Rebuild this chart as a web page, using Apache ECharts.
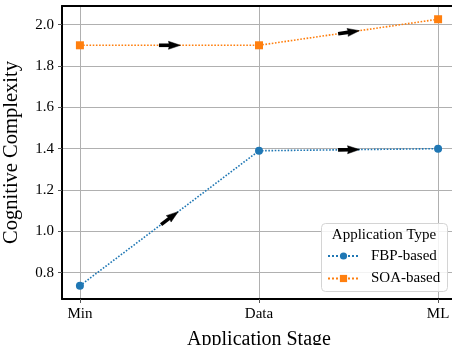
<!DOCTYPE html>
<html><head><meta charset="utf-8">
<script src="https://cdn.jsdelivr.net/npm/echarts@6/dist/echarts.min.js"></script>
<style>html,body{margin:0;padding:0;background:#fff}#c{width:452px;height:345px}</style>
</head><body><div id="c"></div>
<script>
var categories = ['Min', 'Data', 'ML'];
var fbpValues = [0.737, 1.39, 1.40];
var soaValues = [1.90, 1.90, 2.026];
var yTicks = [0.8, 1.0, 1.2, 1.4, 1.6, 1.8, 2.0];
var xTicks = [0, 1, 2];
var seriesNames = ['FBP-based', 'SOA-based'];

var FONT = 'Liberation Serif';
var GRID_C = '#b0b0b0';

function toPairs(vals){ return vals.map(function(v,i){ return [i, v]; }); }
function segments(vals){ var s=[]; for(var i=0;i<vals.length-1;i++){ s.push([i, vals[i], vals[i+1]]); } return s; }

function arrowItem(params, api){
  var i = api.value(0);
  var p0 = api.coord([i, api.value(1)]);
  var p1 = api.coord([i+1, api.value(2)]);
  var mx=(p0[0]+p1[0])/2, my=(p0[1]+p1[1])/2;
  var dx=p1[0]-p0[0], dy=p1[1]-p0[1]; var L=Math.sqrt(dx*dx+dy*dy);
  var ux=dx/L, uy=dy/L, nx=-uy, ny=ux;
  var tip=[mx+11*ux, my+11*uy], tail=[mx-10.5*ux, my-10.5*uy];
  var hb=[tip[0]-12*ux, tip[1]-12*uy];
  return {type:'group', children:[
    {type:'line', shape:{x1:tail[0],y1:tail[1],x2:hb[0]+2*ux,y2:hb[1]+2*uy}, style:{stroke:'#000', lineWidth:3.6}},
    {type:'polygon', shape:{points:[tip,[hb[0]+4*nx,hb[1]+4*ny],[hb[0]+1*ux,hb[1]+1*uy],[hb[0]-4*nx,hb[1]-4*ny]]}, style:{fill:'#000', stroke:'#000', lineWidth:0.5}}
  ]};
}

var chart = echarts.init(document.getElementById('c'), null, {renderer:'canvas'});
chart.setOption({
  animation:false,
  textStyle:{fontFamily:FONT},
  grid:{left:62, top:6, width:394, height:293, containLabel:false, outerBoundsMode:'none'},
  xAxis:[{
    type:'value', min:-0.1, max:2.1, minInterval:1, maxInterval:1, splitNumber:2,
    name:'Application Stage', nameLocation:'middle', nameGap:31,
    nameTextStyle:{fontFamily:FONT, fontSize:20, color:'#000'},
    axisLine:{show:true, onZero:false, lineStyle:{color:'#000', width:2}},
    axisTick:{show:true, length:4, customValues:xTicks, lineStyle:{color:'#555'}},
    axisLabel:{customValues:xTicks, margin:8, fontFamily:FONT, fontSize:15, color:'#000',
      formatter:function(v){ var k=Math.round(v); return Math.abs(v-k)<1e-6 && categories[k]!==undefined ? categories[k] : ''; }},
    splitLine:{show:true, lineStyle:{color:GRID_C, width:1}},
    z:3
  },{
    type:'value', position:'top', min:-0.1, max:2.1,
    axisLine:{show:true, onZero:false, lineStyle:{color:'#000', width:2}},
    axisTick:{show:false}, axisLabel:{show:false}, splitLine:{show:false}, z:3
  }],
  yAxis:{
    type:'value', min:0.673, max:2.09, minInterval:0.2, maxInterval:0.2, splitNumber:7,
    name:'Cognitive Complexity', nameLocation:'middle', nameGap:40,
    nameTextStyle:{fontFamily:FONT, fontSize:20.5, color:'#000'},
    axisLine:{show:true, onZero:false, lineStyle:{color:'#000', width:2}},
    axisTick:{show:true, length:4, customValues:yTicks, lineStyle:{color:'#555'}},
    axisLabel:{customValues:yTicks, margin:8, fontFamily:FONT, fontSize:15, color:'#000',
      formatter:function(v){ return v.toFixed(1); }},
    splitLine:{show:true, lineStyle:{color:GRID_C, width:1}},
    z:3
  },
  legend:{
    data:seriesNames, orient:'vertical', left:327, top:248.5, padding:0,
    itemWidth:31, itemHeight:9, itemGap:7.5,
    textStyle:{fontFamily:FONT, fontSize:15, color:'#000', padding:[0,0,0,7]},
    z:6
  },
  graphic:[
    {type:'rect', left:321, top:223, shape:{width:126, height:68, r:4}, style:{fill:'rgba(255,255,255,0.85)', stroke:'#d4d4d4', lineWidth:1}, z:5},
    {type:'text', x:384, y:235, style:{text:'Application Type', fontFamily:FONT, fontSize:15, fill:'#000', align:'center', verticalAlign:'middle'}, z:7}
  ],
  series:[
    {name:seriesNames[0], type:'line', data:toPairs(fbpValues), symbol:'circle', symbolSize:8,
      itemStyle:{color:'#1f77b4'}, lineStyle:{color:'#1f77b4', type:'dotted', width:1.6}, z:4},
    {name:seriesNames[1], type:'line', data:toPairs(soaValues), symbol:'rect', symbolSize:8,
      itemStyle:{color:'#ff7f0e'}, lineStyle:{color:'#ff7f0e', type:'dotted', width:1.6}, z:4},
    {type:'custom', renderItem:arrowItem, data:segments(fbpValues), z:5, silent:true},
    {type:'custom', renderItem:arrowItem, data:segments(soaValues), z:5, silent:true}
  ]
});
</script></body></html>
